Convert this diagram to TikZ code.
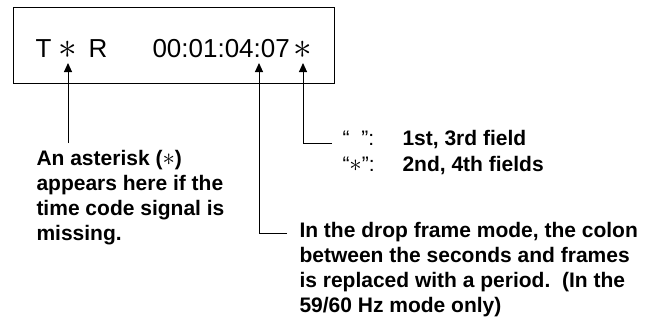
\documentclass[tikz,border=0pt]{standalone}
\usepackage{fontspec}
\usepackage{graphicx}
\setmainfont{Liberation Sans}
\usetikzlibrary{arrows.meta}
\newcommand{\bigast}[1]{\scalebox{#1}{$\ast$}}
\begin{document}
\begin{tikzpicture}[x=1bp,y=-1bp,line width=1bp,
  disp/.style={inner sep=0,anchor=base west,font=\fontsize{26bp}{30bp}\selectfont},
  note/.style={inner sep=0,anchor=base west,align=left,font=\bfseries\fontsize{21bp}{25bp}\selectfont},
  qt/.style={inner sep=0,anchor=base west,font=\fontsize{21bp}{25bp}\selectfont},
  lead/.style={-{Triangle[length=9bp,width=8bp]}}]
\useasboundingbox (0,0) rectangle (655,324);
% display box
\node[draw,inner sep=0,anchor=north west,minimum width=321bp,minimum height=76bp] (box) at (13,7) {};
\node[disp] (T) at (35,57) {T};
\node[disp,anchor=base] (a1) at (68,58) {\bigast{1.5}};
\node[disp] (R) at (88,57) {R};
\node[disp] (tc) at (152,57) {00:01:04:07};
\node[disp,anchor=base] (a2) at (303,58) {\bigast{1.5}};
% notes (anchor at baseline of the last line)
\node[note] (n1) at (36,240) {An asterisk (\textmd{\bigast{1.2}})\\appears here if the\\time code signal is\\missing.};
\node[note] (n2) at (299,312) {In the drop frame mode, the colon\\between the seconds and frames\\is replaced with a period.\ \ (In the\\59/60 Hz mode only)};
\node[qt] (q1) at (342,145) {“\hspace{12bp}”:};
\node[qt] (q2) at (342,171) {“\bigast{1.2}”:};
\node[note] (f1) at (402,145) {1st, 3rd field};
\node[note] (f2) at (402,171) {2nd, 4th fields};
% lead lines
\coordinate (t1) at (68,63);
\coordinate (e1) at (68,143);
\coordinate (t2) at (259,63);
\coordinate (c2) at (259,233);
\coordinate (e2) at (287,233);
\coordinate (t3) at (303,63);
\coordinate (c3) at (303,143);
\coordinate (e3) at (332,143);
\draw[lead] (e1) -- (t1);
\draw[lead] (e2) -- (c2) -- (t2);
\draw[lead] (e3) -- (c3) -- (t3);
\end{tikzpicture}
\end{document}
